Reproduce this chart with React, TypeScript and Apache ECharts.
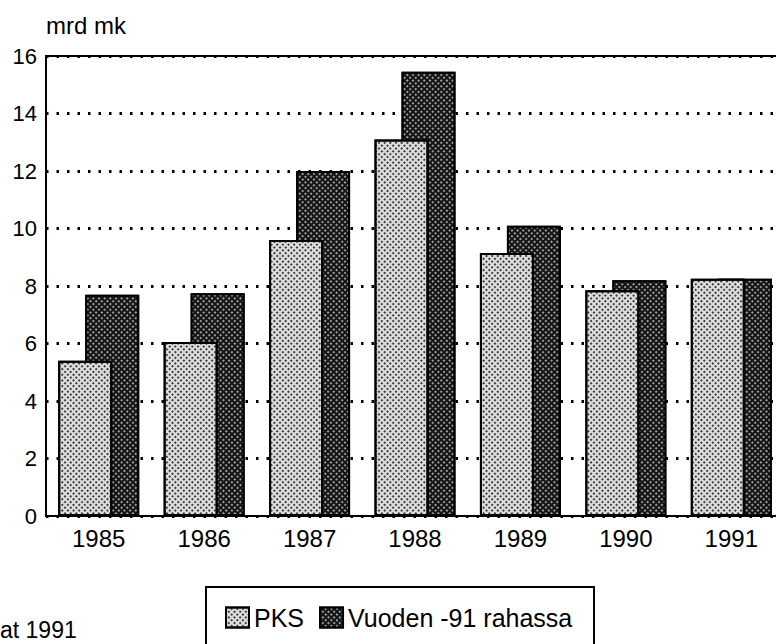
import React, { useEffect, useRef } from 'react';
import * as echarts from 'echarts';

const years = ['1985', '1986', '1987', '1988', '1989', '1990', '1991'];
const pksValues = [5.4, 6.05, 9.6, 13.1, 9.15, 7.85, 8.25];
const realValues = [7.7, 7.75, 12.0, 15.45, 10.1, 8.2, 8.25];
const seriesNames = ['PKS', 'Vuoden -91 rahassa'];
const yMin = 0;
const yMax = 16;
const yInterval = 2;
const unitLabel = 'mrd mk';
const footnote = 'at 1991';

export default function App() {
  const ref = useRef<HTMLDivElement>(null);
  useEffect(() => {
    if (!ref.current) return;
    const chart = echarts.init(ref.current, null, { renderer: 'svg' });
    const font = '"Liberation Sans", Arial, Helvetica, sans-serif';
    chart.setOption({
      animation: false,
      backgroundColor: '#ffffff',
      textStyle: { fontFamily: font },
      grid: {
        left: 46,
        top: 56,
        right: 6,
        bottom: 128,
        show: true,
        borderColor: '#000',
        borderWidth: 2,
        backgroundColor: 'transparent',
      },
      xAxis: {
        type: 'category',
        data: years,
        axisLine: { show: true, lineStyle: { color: '#000', width: 2 } },
        axisTick: { show: false },
        axisLabel: { color: '#000', fontSize: 24, margin: 10, fontFamily: font },
      },
      yAxis: {
        type: 'value',
        min: yMin,
        max: yMax,
        interval: yInterval,
        axisLine: { show: true, lineStyle: { color: '#000', width: 2 } },
        axisTick: { show: false },
        axisLabel: { color: '#000', fontSize: 22, margin: 9, fontFamily: font },
        splitLine: {
          show: true,
          lineStyle: { color: '#000', width: 2.8, type: [2.5, 8] },
        },
      },
      legend: {
        data: seriesNames,
        left: 220,
        top: 600,
        itemWidth: 23,
        itemHeight: 20,
        itemGap: 15,
        icon: 'rect',
        textStyle: { fontSize: 25, color: '#000', fontFamily: font },
      },
      graphic: [
        {
          type: 'rect',
          shape: { x: 206, y: 587, width: 388, height: 90 },
          style: { fill: 'none', stroke: '#000', lineWidth: 2 },
          z: 1,
        },
        {
          type: 'text',
          left: 46,
          top: 13,
          style: { text: unitLabel, fontSize: 24, fontFamily: font, fill: '#000' },
        },
        {
          type: 'text',
          left: 0,
          top: 617,
          style: { text: footnote, fontSize: 23, lineHeight: 25, fontFamily: font, fill: '#000' },
        },
      ],
      series: [
        {
          name: seriesNames[0],
          type: 'bar',
          data: pksValues,
          barWidth: 54,
          barGap: '-50%',
          z: 3,
          itemStyle: {
            color: '#dedede',
            borderColor: '#000',
            borderWidth: 2,
            decal: {
              symbol: 'rect',
              symbolSize: 1,
              color: '#404040',
              dashArrayX: [1.5, 1.5],
              dashArrayY: [1.5, 1.5],
              rotation: Math.PI / 4,
            },
          },
        },
        {
          name: seriesNames[1],
          type: 'bar',
          data: realValues,
          barWidth: 54,
          barGap: '-50%',
          z: 2,
          itemStyle: {
            color: '#141414',
            borderColor: '#000',
            borderWidth: 2,
            decal: {
              symbol: 'rect',
              symbolSize: 1,
              color: '#9a9a9a',
              dashArrayX: [1.5, 1.5],
              dashArrayY: [1.5, 1.5],
              rotation: Math.PI / 4,
            },
          },
        },
      ],
    });
    return () => chart.dispose();
  }, []);
  return (
    <div
      style={{
        position: 'fixed',
        left: 0,
        top: 0,
        width: 776,
        height: 644,
        overflow: 'hidden',
        background: '#fff',
      }}
    >
      <div ref={ref} style={{ width: 790, height: 644 }} />
    </div>
  );
}
